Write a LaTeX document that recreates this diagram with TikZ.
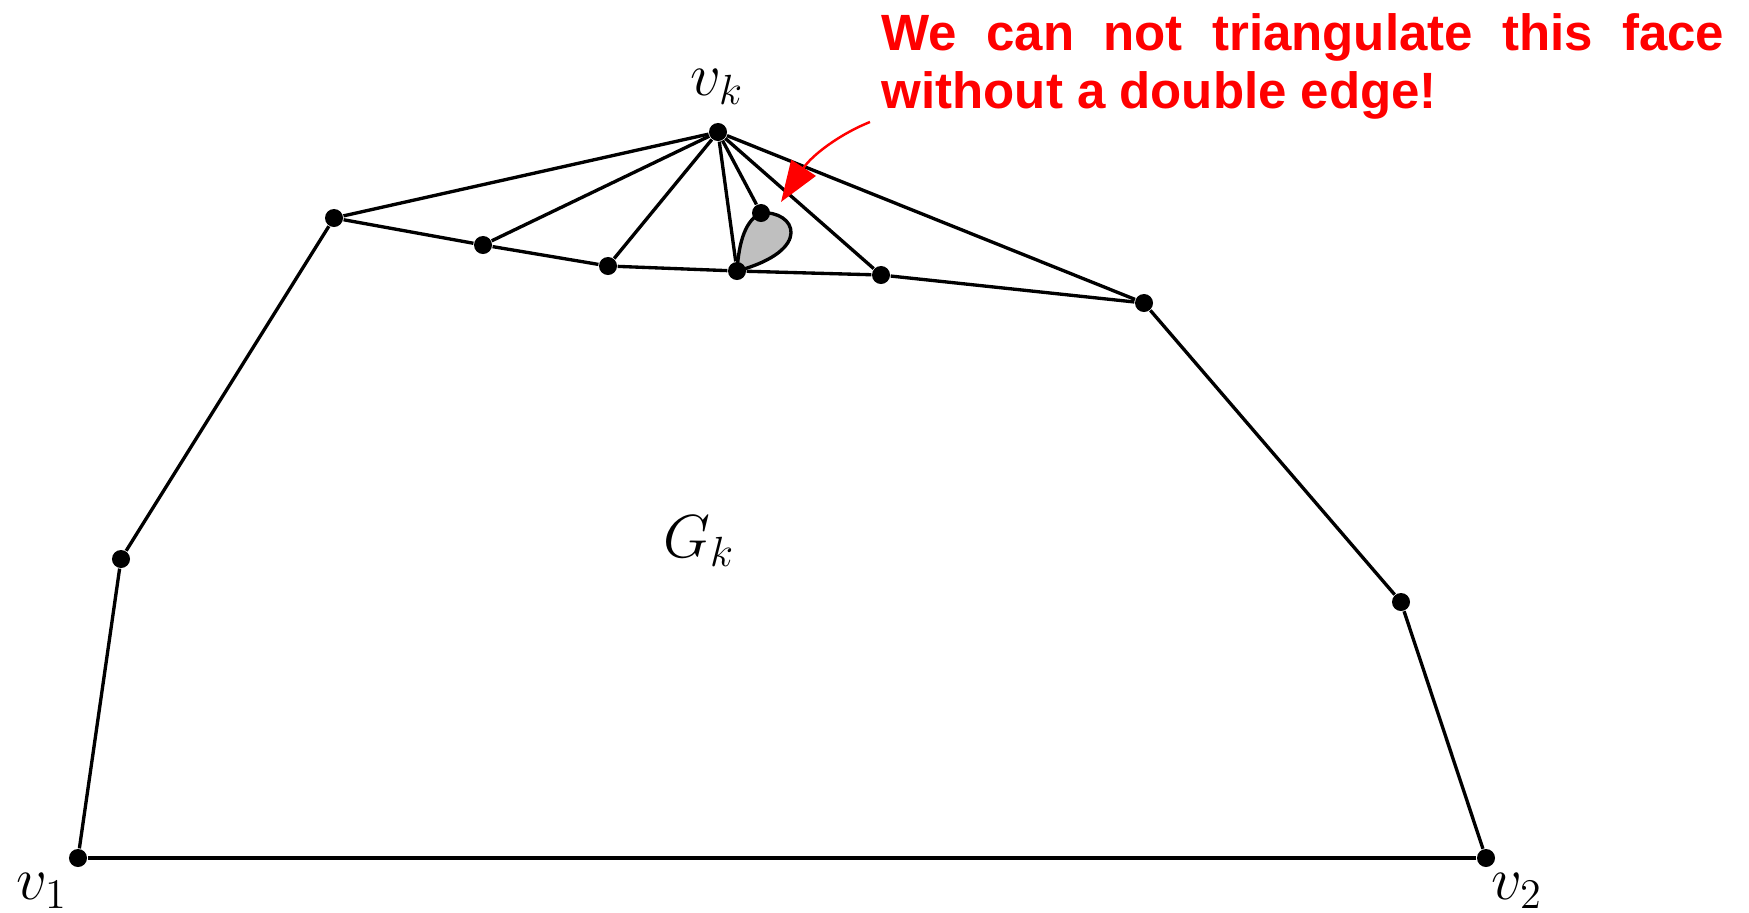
\documentclass[tikz,border=0pt]{standalone}
\usepackage{fontspec}
\newfontfamily\notefont{Liberation Sans}
\usetikzlibrary{arrows.meta,backgrounds}

\begin{document}
\begin{tikzpicture}[x=0.01cm,y=-0.01cm,
  vtx/.style={circle,fill=black,inner sep=0pt,minimum size=0.18cm},
  edg/.style={line width=0.95pt},
  lbl/.style={font=\fontsize{17}{19}\selectfont,inner sep=0pt},
  note/.style={font=\notefont\fontsize{14.5}{16.5}\selectfont\bfseries,text=red,
               align=justify,text width=8.42cm,inner sep=0pt,anchor=north west}]
  \useasboundingbox (0,0) rectangle (1749,912);
  % outer face and top contour
  \node[vtx] (v1) at (78,858) {};
  \node[vtx] (v2) at (1486,858) {};
  \node[vtx] (a) at (121,559) {};
  \node[vtx] (b) at (334,218) {};
  \node[vtx] (c) at (483,245) {};
  \node[vtx] (d) at (608,266) {};
  \node[vtx] (e) at (737,271) {};
  \node[vtx] (f) at (881,275) {};
  \node[vtx] (g) at (1144,303) {};
  \node[vtx] (h) at (1401,602) {};
  \node[vtx] (vk) at (718,132) {};
  \node[vtx] (p) at (761,213) {};
  \node[lbl] (lv1) at (42,891) {$v_1$};
  \node[lbl] (lv2) at (1517,891) {$v_2$};
  \node[lbl] (lvk) at (717,87) {$v_k$};
  \node[lbl] (lgk) at (699,541) {$G_k$};
  \foreach \a/\b in {v1/a,a/b,b/c,c/d,d/e,e/f,f/g,g/h,h/v2,v2/v1} \draw[edg] (\a) -- (\b);
  \foreach \t in {b,c,d,e,p,f,g} \draw[edg] (vk) -- (\t);
  % the face with the double edge
  \begin{scope}[on background layer]
    \draw[edg,fill=black!25] (e.center) .. controls (739,240) and (746,220) .. (p.center)
      .. controls (795,210) and (815,250) .. (e.center);
  \end{scope}
  \node[note] (msg) at (881,13) {We can not triangulate this face without a double edge!};
  \coordinate (tail) at (870,122);
  \coordinate (tip) at (781,202);
  \draw[red,line width=0.7pt,-{Triangle[length=0.41cm,width=0.29cm]}] (tail) .. controls (840,134) and (812,155) .. (tip);
\end{tikzpicture}
\end{document}
